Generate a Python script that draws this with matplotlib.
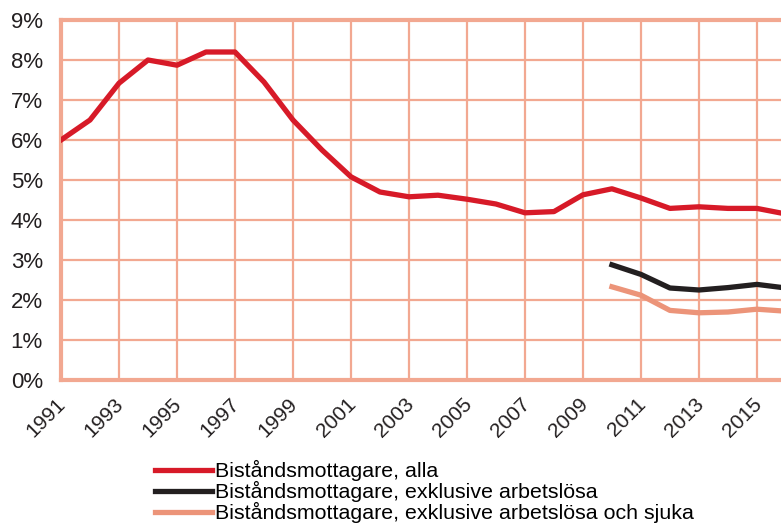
import matplotlib.pyplot as plt
import matplotlib.transforms as mtransforms

plt.rcParams['font.family'] = ['Liberation Sans', 'DejaVu Sans']

years = list(range(1991, 2017))
alla = [6.0, 6.5, 7.42, 8.0, 7.87, 8.2, 8.2, 7.45, 6.5, 5.75, 5.08, 4.7, 4.58,
        4.62, 4.52, 4.4, 4.18, 4.21, 4.63, 4.78, 4.55, 4.29, 4.33, 4.29, 4.29, 4.15]
years_b = list(range(2010, 2017))
exkl_arb = [2.88, 2.64, 2.3, 2.25, 2.31, 2.39, 2.3]
exkl_arb_sjuka = [2.33, 2.12, 1.74, 1.68, 1.7, 1.77, 1.72]

labels = ['Biståndsmottagare, alla',
          'Biståndsmottagare, exklusive arbetslösa',
          'Biståndsmottagare, exklusive arbetslösa och sjuka']

red = '#d71a28'
black = '#231f20'
pink = '#ec9479'
grid = '#f2a891'

fig = plt.figure(figsize=(7.81, 5.27), dpi=100)
ax = fig.add_axes([61/781, 1 - 380/527, 1 - 61/781, 360/527])

l1, = ax.plot(years, alla, color=red, lw=3.8, zorder=3)
l2, = ax.plot(years_b, exkl_arb, color=black, lw=3.8, zorder=3)
l3, = ax.plot(years_b, exkl_arb_sjuka, color=pink, lw=3.8, zorder=3)

ax.set_xlim(1991, 2015.83)
ax.set_ylim(0, 9)
ax.set_xticks(range(1991, 2016, 2))
ax.set_yticks(range(0, 10))
ax.set_yticklabels([f'{v}%' for v in range(0, 10)])
ax.grid(True, color=grid, lw=1.6, zorder=1)
ax.tick_params(length=0, colors='#231f20')
ax.tick_params(axis='y', pad=13, labelsize=16)
ax.tick_params(axis='x', pad=8, labelsize=15)
shift = mtransforms.ScaledTranslation(-5/100, -3/100, fig.dpi_scale_trans)
for lbl in ax.get_xticklabels():
    lbl.set_rotation(45)
    lbl.set_ha('right')
    lbl.set_rotation_mode('anchor')
    lbl.set_transform(lbl.get_transform() + shift)

for s in ['left', 'top', 'bottom']:
    ax.spines[s].set_color(grid)
    ax.spines[s].set_linewidth(3)
ax.spines['right'].set_visible(False)

fig.legend([l1, l2, l3], labels, loc='upper left',
           bbox_to_anchor=(155/781, 1 - 460/527), frameon=False,
           fontsize=15.4, handlelength=2.65, handletextpad=0.15,
           labelspacing=0.0, borderpad=0, borderaxespad=0)

fig.savefig('out.png', dpi=100)
